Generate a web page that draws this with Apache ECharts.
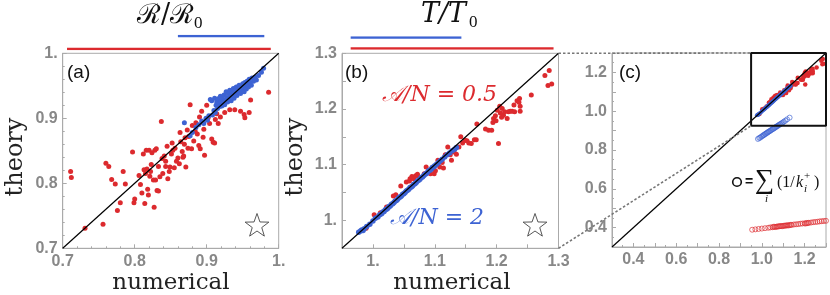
<!DOCTYPE html>
<html><head><meta charset="utf-8">
<script src="https://cdn.jsdelivr.net/npm/echarts/dist/echarts.min.js"></script>
<style>html,body{margin:0;padding:0;background:#fff}#c{width:830px;height:295px}</style>
</head><body><div id="c"></div>
<script>
// ---------- data ----------
const axisA = [0.7, 1.0];
const axisB = [0.95, 1.3];
const axisC = [0.3, 1.3];
const ticksA = [0.7, 0.8, 0.9, 1.0];
const labelsA = ['0.7', '0.8', '0.9', '1.'];
const ticksB = [1.0, 1.1, 1.2, 1.3];
const labelsB = ['1.', '1.1', '1.2', '1.3'];
const ticksC = [0.4, 0.6, 0.8, 1.0, 1.2];
const labelsC = ['0.4', '0.6', '0.8', '1.0', '1.2'];

const rangeBlueA = [0.86, 0.98];
const rangeRedA = [0.706, 0.989];
const rangeBlueB = [0.964, 1.143];
const rangeRedB = [0.964, 1.292];

const insetX = [0.95, 1.3];
const insetY = [0.925, 1.3];

const redA = [
[0.711,0.818],[0.712,0.809],[0.731,0.731],[0.756,0.737],[0.760,0.831],[0.764,0.826],[0.768,0.806],[0.773,0.799],
[0.776,0.758],[0.780,0.770],[0.784,0.818],[0.787,0.799],[0.797,0.848],[0.799,0.770],[0.800,0.776],[0.808,0.798],
[0.810,0.785],[0.812,0.845],[0.813,0.821],[0.814,0.769],[0.815,0.815],[0.816,0.851],[0.817,0.822],[0.818,0.791],
[0.819,0.782],[0.820,0.851],[0.821,0.811],[0.823,0.829],[0.824,0.847],[0.826,0.805],[0.827,0.763],[0.828,0.851],
[0.829,0.805],[0.830,0.853],[0.831,0.789],[0.833,0.788],[0.835,0.810],[0.837,0.895],[0.838,0.838],[0.841,0.842],
[0.843,0.834],[0.845,0.857],[0.846,0.807],[0.849,0.825],[0.851,0.845],[0.853,0.851],[0.855,0.824],[0.856,0.854],
[0.858,0.834],[0.860,0.839],[0.863,0.878],[0.864,0.864],[0.866,0.849],[0.867,0.840],[0.869,0.860],[0.871,0.825],
[0.873,0.882],[0.875,0.872],[0.877,0.921],[0.879,0.853],[0.880,0.889],[0.882,0.865],[0.885,0.893],[0.887,0.876],
[0.889,0.858],[0.891,0.853],[0.893,0.911],[0.895,0.893],[0.895,0.871],[0.896,0.883],[0.897,0.843],[0.900,0.920],
[0.902,0.901],[0.904,0.892],[0.907,0.868],[0.909,0.863],[0.911,0.862],[0.912,0.898],[0.914,0.907],[0.916,0.892],
[0.919,0.902],[0.925,0.909],[0.932,0.913],[0.939,0.913],[0.947,0.911],[0.952,0.906],[0.953,0.901],[0.959,0.909],
[0.961,0.928],[0.986,0.940],[0.822,0.818],[0.843,0.826],[0.848,0.818],[0.862,0.830],[0.868,0.842],[0.852,0.862],
[0.839,0.815],[0.806,0.812],[0.833,0.826],[0.874,0.854],[0.884,0.880],[0.890,0.902],[0.870,0.870]
];

const blueA = [
[0.869,0.893],[0.877,0.873],[0.880,0.878],[0.885,0.886],[0.889,0.890],[0.893,0.896],[0.896,0.892],[0.899,0.900],
[0.901,0.897],[0.903,0.904],[0.905,0.929],[0.907,0.927],[0.908,0.905],[0.910,0.912],[0.911,0.931],[0.912,0.909],
[0.913,0.920],[0.914,0.925],[0.915,0.915],[0.916,0.930],[0.917,0.922],[0.918,0.918],[0.919,0.934],[0.920,0.926],
[0.921,0.919],[0.922,0.930],[0.923,0.924],[0.924,0.936],[0.925,0.921],[0.926,0.928],[0.927,0.941],[0.928,0.932],
[0.929,0.925],[0.930,0.938],[0.931,0.930],[0.932,0.943],[0.933,0.934],[0.934,0.927],[0.935,0.940],[0.936,0.936],
[0.937,0.946],[0.938,0.931],[0.939,0.942],[0.940,0.938],[0.941,0.948],[0.942,0.935],[0.943,0.944],[0.944,0.940],
[0.945,0.951],[0.946,0.943],[0.947,0.938],[0.948,0.948],[0.949,0.944],[0.950,0.953],[0.951,0.947],[0.952,0.941],
[0.953,0.955],[0.954,0.950],[0.955,0.945],[0.956,0.957],[0.957,0.952],[0.958,0.948],[0.959,0.960],[0.960,0.955],
[0.962,0.951],[0.963,0.962],[0.965,0.957],[0.967,0.963],[0.969,0.959],[0.972,0.966],[0.976,0.971],[0.979,0.977]
];

const redB = [
[0.989,0.986],[1.002,1.010],[1.012,1.014],[1.022,1.024],[1.033,1.044],[1.037,1.046],[1.045,1.062],[1.054,1.069],
[1.059,1.071],[1.060,1.075],[1.063,1.079],[1.066,1.075],[1.069,1.080],[1.072,1.083],[1.075,1.076],[1.083,1.084],
[1.086,1.096],[1.091,1.088],[1.093,1.084],[1.096,1.092],[1.099,1.084],[1.101,1.089],[1.105,1.108],[1.108,1.096],
[1.112,1.104],[1.114,1.094],[1.117,1.118],[1.121,1.132],[1.125,1.118],[1.127,1.108],[1.131,1.123],[1.135,1.119],
[1.139,1.132],[1.142,1.150],[1.145,1.139],[1.149,1.144],[1.152,1.143],[1.155,1.139],[1.159,1.138],[1.164,1.145],
[1.167,1.145],[1.168,1.173],[1.182,1.164],[1.187,1.162],[1.192,1.162],[1.194,1.176],[1.195,1.183],[1.198,1.188],
[1.199,1.179],[1.201,1.198],[1.203,1.138],[1.205,1.205],[1.206,1.193],[1.208,1.185],[1.209,1.201],[1.211,1.189],
[1.213,1.195],[1.217,1.183],[1.219,1.195],[1.222,1.196],[1.225,1.196],[1.228,1.207],[1.229,1.195],[1.233,1.215],
[1.236,1.212],[1.238,1.196],[1.237,1.219],[1.256,1.225],[1.278,1.260],[1.285,1.269],[1.283,1.242],[1.289,1.245],
[1.238,1.205]
];

const blueB = [
[0.977,0.979],[0.980,0.981],[0.982,0.983],[0.984,0.982],[0.986,0.985],[0.990,0.989],[0.995,0.993],[1.000,0.999],
[1.004,1.004],[1.008,1.006],[1.011,1.010],[1.014,1.012],[1.016,1.015],[1.018,1.016],[1.020,1.019],[1.022,1.020],
[1.024,1.022],[1.026,1.025],[1.028,1.026],[1.030,1.029],[1.032,1.030],[1.034,1.032],[1.036,1.035],[1.038,1.036],
[1.040,1.038],[1.042,1.041],[1.044,1.042],[1.046,1.044],[1.048,1.047],[1.050,1.048],[1.052,1.050],[1.054,1.053],
[1.056,1.054],[1.058,1.056],[1.060,1.059],[1.062,1.060],[1.064,1.062],[1.066,1.065],[1.068,1.066],[1.070,1.068],
[1.072,1.071],[1.074,1.072],[1.076,1.074],[1.078,1.077],[1.080,1.078],[1.082,1.080],[1.084,1.083],[1.086,1.084],
[1.088,1.086],[1.090,1.089],[1.092,1.090],[1.094,1.092],[1.096,1.095],[1.098,1.096],[1.100,1.098],[1.103,1.101],
[1.106,1.104],[1.109,1.107],[1.112,1.110],[1.116,1.114],[1.120,1.118],[1.124,1.121],[1.128,1.125],[1.132,1.128],
[1.135,1.131]
];

const hollowBlueC = [
[0.982,0.857],[0.988,0.862],[0.993,0.864],[0.998,0.869],[1.003,0.872],[1.007,0.876],[1.011,0.878],[1.015,0.882],
[1.019,0.884],[1.023,0.888],[1.027,0.890],[1.031,0.894],[1.035,0.896],[1.039,0.899],[1.043,0.902],[1.047,0.905],
[1.051,0.908],[1.055,0.910],[1.059,0.914],[1.063,0.916],[1.067,0.920],[1.071,0.922],[1.075,0.925],[1.079,0.928],
[1.083,0.931],[1.087,0.934],[1.092,0.937],[1.097,0.941],[1.103,0.946],[1.110,0.951],[1.118,0.958],[1.130,0.967]
];

const hollowRedC = [
[0.955,0.389],[0.970,0.391],[0.985,0.393],[1.000,0.395],[1.015,0.397],[1.030,0.399],[1.040,0.401],[1.050,0.402],
[1.055,0.404],[1.060,0.404],[1.065,0.403],[1.070,0.405],[1.075,0.406],[1.080,0.406],[1.085,0.408],[1.090,0.408],
[1.095,0.407],[1.100,0.409],[1.105,0.410],[1.110,0.410],[1.115,0.411],[1.120,0.412],[1.125,0.411],[1.130,0.413],
[1.135,0.414],[1.140,0.414],[1.150,0.416],[1.160,0.417],[1.170,0.418],[1.180,0.420],[1.190,0.421],[1.200,0.422],
[1.205,0.421],[1.210,0.424],[1.215,0.423],[1.220,0.425],[1.230,0.426],[1.240,0.428],[1.250,0.429],[1.260,0.430],
[1.270,0.432],[1.280,0.433],[1.290,0.434],[1.300,0.435]
];

// ---------- style ----------
const RED = '#dc2a2e';
const BLUE = '#3d63d3';
const FRAME = '#aaaaaa';
const TICKCOL = '#888888';

function labelFor(v, ticks, labels) {
  for (let i = 0; i < ticks.length; i++) if (Math.abs(ticks[i] - v) < 1e-6) return labels[i];
  return '';
}
function valAxis(gridIndex, range, interval, ticks, labels, minorSplit) {
  return {
    type: 'value', gridIndex, min: range[0], max: range[1], interval,
    axisLine: { show: true, onZero: false, lineStyle: { color: FRAME, width: 1 } },
    axisTick: { show: true, inside: true, length: 4, lineStyle: { color: FRAME } },
    minorTick: { show: !!minorSplit, splitNumber: minorSplit || 2, length: 2, lineStyle: { color: FRAME } },
    splitLine: { show: false },
    axisLabel: { show: true, margin: 5, color: TICKCOL, fontFamily: 'Liberation Sans', fontWeight: 'bold', fontSize: 16,
      formatter: v => labelFor(v, ticks, labels) }
  };
}
function hidden(gridIndex, range) {
  return { type: 'value', gridIndex, min: range[0], max: range[1], show: false, splitLine: { show: false } };
}
function diag(r) { return [[r[0], r[0]], [r[1], r[1]]]; }
function seg(r, level) { return [[r[0], level], [r[1], level]]; }

const chart = echarts.init(document.getElementById('c'), null, { renderer: 'canvas' });

const gridStyle = { show: true, borderColor: FRAME, borderWidth: 1, containLabel: false };
const dot = (c) => ({ color: c, opacity: 1 });
const option = {
  animation: false,
  backgroundColor: '#fff',
  grid: [
    Object.assign({ left: 62.7, top: 53.3, width: 216, height: 195 }, gridStyle),
    Object.assign({ left: 342, top: 53.3, width: 216.5, height: 195 }, gridStyle),
    Object.assign({ left: 612, top: 53, width: 214, height: 194 }, gridStyle),
    { left: 62.7, top: 36, width: 216, height: 13, show: false },
    { left: 342, top: 37.5, width: 216.5, height: 11, show: false }
  ],
  xAxis: [
    valAxis(0, axisA, 0.1, ticksA, labelsA, 5),
    valAxis(1, axisB, 0.05, ticksB, labelsB, 0),
    valAxis(2, axisC, 0.1, ticksC, labelsC, 2),
    hidden(3, axisA),
    hidden(4, axisB)
  ],
  yAxis: [
    valAxis(0, axisA, 0.1, ticksA, labelsA, 5),
    valAxis(1, axisB, 0.05, ticksB, labelsB, 0),
    valAxis(2, axisC, 0.1, ticksC, labelsC, 2),
    hidden(3, [0, 1]),
    hidden(4, [0, 1])
  ],
  series: [
    { type: 'scatter', xAxisIndex: 0, yAxisIndex: 0, data: redA, symbolSize: 5, itemStyle: dot(RED), silent: true },
    { type: 'scatter', xAxisIndex: 0, yAxisIndex: 0, data: blueA, symbolSize: 5, itemStyle: dot(BLUE), silent: true },
    { type: 'line', xAxisIndex: 0, yAxisIndex: 0, data: diag(axisA), symbol: 'none', lineStyle: { color: '#000', width: 1.2 }, silent: true },

    { type: 'scatter', xAxisIndex: 1, yAxisIndex: 1, data: redB, symbolSize: 5, itemStyle: dot(RED), silent: true },
    { type: 'scatter', xAxisIndex: 1, yAxisIndex: 1, data: blueB, symbolSize: 5.5, itemStyle: dot(BLUE), silent: true },
    { type: 'line', xAxisIndex: 1, yAxisIndex: 1, data: diag(axisB), symbol: 'none', lineStyle: { color: '#000', width: 1.2 }, silent: true },

    { type: 'scatter', xAxisIndex: 2, yAxisIndex: 2, data: hollowRedC, symbol: 'circle', symbolSize: 5,
      itemStyle: { color: 'rgba(255,255,255,0)', borderColor: RED, borderWidth: 0.9, opacity: 0.75 }, silent: true },
    { type: 'scatter', xAxisIndex: 2, yAxisIndex: 2, data: hollowBlueC, symbol: 'circle', symbolSize: 5,
      itemStyle: { color: 'rgba(255,255,255,0)', borderColor: BLUE, borderWidth: 0.9, opacity: 0.75 }, silent: true },
    { type: 'scatter', xAxisIndex: 2, yAxisIndex: 2, data: redB, symbolSize: 4.5, itemStyle: dot(RED), silent: true },
    { type: 'scatter', xAxisIndex: 2, yAxisIndex: 2, data: blueB, symbolSize: 4, itemStyle: dot(BLUE), silent: true },
    { type: 'line', xAxisIndex: 2, yAxisIndex: 2, data: diag(axisC), symbol: 'none', lineStyle: { color: '#000', width: 1.2 }, silent: true },
    { type: 'line', xAxisIndex: 2, yAxisIndex: 2, symbol: 'none', silent: true, z: 5,
      data: [[insetX[0], insetY[0]], [insetX[1], insetY[0]], [insetX[1], insetY[1]], [insetX[0], insetY[1]], [insetX[0], insetY[0]]],
      lineStyle: { color: '#111', width: 2 } },

    { type: 'line', xAxisIndex: 3, yAxisIndex: 3, data: seg(rangeBlueA, 1), symbol: 'none', lineStyle: { color: BLUE, width: 2.5 }, silent: true },
    { type: 'line', xAxisIndex: 3, yAxisIndex: 3, data: seg(rangeRedA, 0), symbol: 'none', lineStyle: { color: RED, width: 2.5 }, silent: true },
    { type: 'line', xAxisIndex: 4, yAxisIndex: 4, data: seg(rangeBlueB, 1), symbol: 'none', lineStyle: { color: BLUE, width: 2.5 }, silent: true },
    { type: 'line', xAxisIndex: 4, yAxisIndex: 4, data: seg(rangeRedB, 0), symbol: 'none', lineStyle: { color: RED, width: 2.5 }, silent: true }
  ]
};
chart.setOption(option);

// ---------- annotations ----------
function txt(text, x, y, o) {
  return { type: 'text', x, y, z: 20, silent: true, rotation: o.rotation || 0,
    style: Object.assign({ text, fill: '#111', align: o.align || 'left', verticalAlign: 'middle',
      textAlign: o.align || 'left', textVerticalAlign: 'middle' }, o.style) };
}
function star(cx, cy, R, r) {
  const pts = [];
  for (let i = 0; i < 10; i++) {
    const a = -Math.PI / 2 + i * Math.PI / 5;
    const rr = i % 2 === 0 ? R : r;
    pts.push([cx + rr * Math.cos(a), cy + rr * Math.sin(a)]);
  }
  return { type: 'polygon', z: 20, silent: true, shape: { points: pts },
    style: { fill: 'none', stroke: '#444', lineWidth: 0.9 } };
}
const serif = 'DejaVu Serif';
const p1 = chart.convertToPixel({ xAxisIndex: 1, yAxisIndex: 1 }, [axisB[1], axisB[1]]);
const p2 = chart.convertToPixel({ xAxisIndex: 1, yAxisIndex: 1 }, [axisB[1], axisB[0]]);
const q1 = chart.convertToPixel({ xAxisIndex: 2, yAxisIndex: 2 }, [insetX[0], insetY[1]]);
const q2 = chart.convertToPixel({ xAxisIndex: 2, yAxisIndex: 2 }, [insetX[0], insetY[0]]);
const dashStyle = { stroke: '#777', lineWidth: 1.6, lineDash: [2.5, 2] };

const graphics = [
  { type: 'line', z: 15, silent: true, shape: { x1: p1[0], y1: p1[1], x2: q1[0], y2: q1[1] }, style: dashStyle },
  { type: 'line', z: 15, silent: true, shape: { x1: p2[0], y1: p2[1], x2: q2[0], y2: q2[1] }, style: dashStyle },

  // titles
  txt('ℛ/ℛ', 137, 16, { style: { fontFamily: serif, fontSize: 27, fill: '#111' } }),
  txt('0', 194, 24, { style: { fontFamily: 'Liberation Serif', fontSize: 17, fill: '#111' } }),
  txt('T/T', 421, 15, { style: { fontFamily: serif, fontStyle: 'italic', fontSize: 27, fill: '#111' } }),
  txt('0', 469, 23, { style: { fontFamily: 'Liberation Serif', fontSize: 17, fill: '#111' } }),

  // axis names
  txt('numerical', 171, 283, { align: 'center', style: { fontFamily: serif, fontSize: 23, fill: '#222' } }),
  txt('numerical', 452, 283, { align: 'center', style: { fontFamily: serif, fontSize: 23, fill: '#222' } }),
  txt('theory', 16, 157, { align: 'center', rotation: Math.PI / 2, style: { fontFamily: serif, fontSize: 24, fill: '#222' } }),
  txt('theory', 296, 157, { align: 'center', rotation: Math.PI / 2, style: { fontFamily: serif, fontSize: 24, fill: '#222' } }),

  // panel letters
  txt('(a)', 67, 73, { style: { fontFamily: 'Liberation Sans', fontSize: 19, fill: '#111' } }),
  txt('(b)', 345, 73, { style: { fontFamily: 'Liberation Sans', fontSize: 19, fill: '#111' } }),
  txt('(c)', 619, 73, { style: { fontFamily: 'Liberation Sans', fontSize: 19, fill: '#111' } }),

  // series labels in (b)
  txt('𝒜/N = 0.5', 382, 95, { style: { fontFamily: serif, fontStyle: 'italic', fontSize: 22, fill: RED } }),
  txt('𝒜/N = 2', 390, 218, { style: { fontFamily: serif, fontStyle: 'italic', fontSize: 22, fill: BLUE } }),

  // stars
  star(257, 226, 12.5, 5),
  star(535, 226, 12.5, 5),

  // formula in (c)
  { type: 'circle', z: 20, silent: true, shape: { cx: 737, cy: 182, r: 4.3 }, style: { fill: 'none', stroke: '#111', lineWidth: 1.6 } },
  txt('=', 745, 182, { style: { fontFamily: 'Liberation Sans', fontWeight: 'bold', fontSize: 14 } }),
  txt('∑', 755, 181, { style: { fontFamily: 'Liberation Serif', fontSize: 27 } }),
  txt('i', 765, 199, { style: { fontFamily: 'Liberation Serif', fontStyle: 'italic', fontSize: 11 } }),
  txt('(1/', 777, 183, { style: { fontFamily: 'Liberation Serif', fontSize: 16 } }),
  txt('k', 796, 183, { style: { fontFamily: 'Liberation Serif', fontStyle: 'italic', fontSize: 16 } }),
  txt('+', 804, 176, { style: { fontFamily: 'Liberation Serif', fontSize: 11 } }),
  txt('i', 804, 189, { style: { fontFamily: 'Liberation Serif', fontStyle: 'italic', fontSize: 11 } }),
  txt(')', 814, 183, { style: { fontFamily: 'Liberation Serif', fontSize: 16 } })
];
chart.setOption({ graphic: graphics });
</script></body></html>
